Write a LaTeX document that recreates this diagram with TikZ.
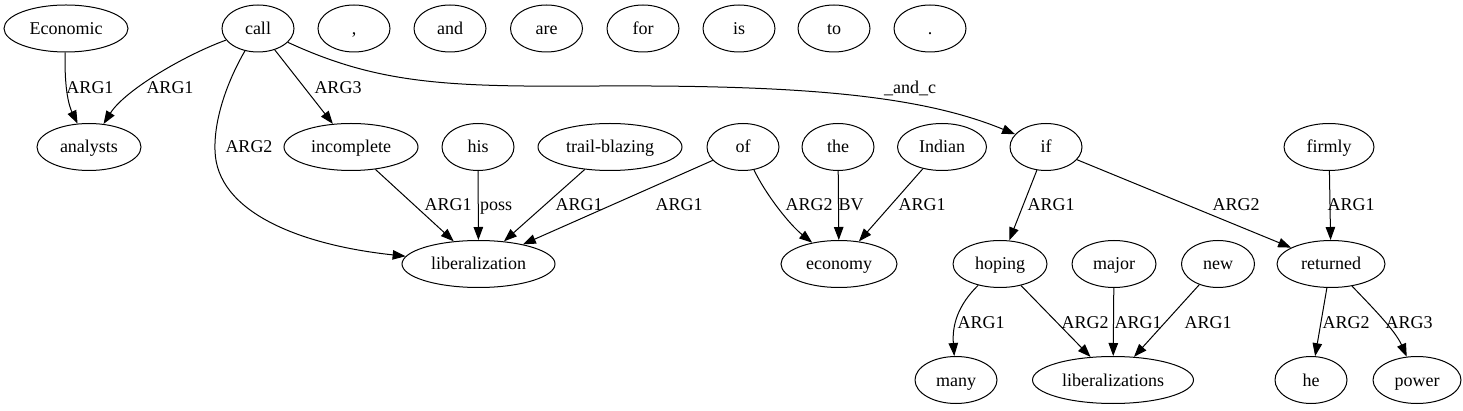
\documentclass[tikz,border=0pt]{standalone}
\usepackage{fontspec}
\newfontfamily\gvfont{Liberation Serif}
\usetikzlibrary{shapes.geometric,arrows.meta}
\tikzset{
  nd/.style={draw, ellipse, line width=1pt, inner sep=0pt, minimum height=47pt, minimum width=72pt, text height=16pt, text depth=4pt, font=\gvfont\fontsize{18}{22}\selectfont},
  lbl/.style={inner sep=0pt, text height=16pt, text depth=4pt, font=\gvfont\fontsize{18}{22}\selectfont},
  ed/.style={line width=1pt, -{Triangle[length=13pt,width=9.5pt]}}
}
\begin{document}
\begin{tikzpicture}[x=1pt,y=1pt]
\useasboundingbox (0,0) rectangle (1463,-411);
% row 1
\node[nd, minimum width=124pt] (economic) at (66,-28.5) {Economic};
\node[nd] (call) at (258,-28.5) {call};
\node[nd] (comma) at (354,-28.5) {,};
\node[nd] (and) at (450,-28.5) {and};
\node[nd] (are) at (546.5,-28.5) {are};
\node[nd] (for) at (643,-28.5) {for};
\node[nd] (is) at (739,-28.5) {is};
\node[nd] (to) at (834,-28.5) {to};
\node[nd] (dot) at (930,-28.5) {.};
% row 2
\node[nd, minimum width=104pt] (analysts) at (89,-147) {analysts};
\node[nd, minimum width=134pt] (incomplete) at (351,-147) {incomplete};
\node[nd] (his) at (478,-147) {his};
\node[nd, minimum width=144pt] (trail) at (610,-147) {trail-blazing};
\node[nd] (of) at (743,-147) {of};
\node[nd] (the) at (838,-147) {the};
\node[nd, minimum width=89pt] (indian) at (942,-147) {Indian};
\node[nd] (if) at (1046,-147) {if};
\node[nd, minimum width=90pt] (firmly) at (1329,-147) {firmly};
% row 3
\node[nd, minimum width=153pt] (lib) at (478.5,-264) {liberalization};
\node[nd, minimum width=116pt] (economy) at (839,-264) {economy};
\node[nd, minimum width=94pt] (hoping) at (1000,-264) {hoping};
\node[nd, minimum width=84pt] (major) at (1114,-264) {major};
\node[nd, minimum width=73pt] (new) at (1218,-264) {new};
\node[nd, minimum width=108pt] (returned) at (1331,-264) {returned};
% row 4
\node[nd, minimum width=82pt] (many) at (956,-380) {many};
\node[nd, minimum width=161pt] (libs) at (1113,-380) {liberalizations};
\node[nd] (he) at (1311,-380) {he};
\node[nd, minimum width=88pt] (power) at (1417,-380) {power};
% edges
\draw[ed] (economic) .. controls (64,-92) and (70,-108) .. (analysts);
\draw[ed] (call) .. controls (185,-55) and (125,-90) .. (analysts);
\draw[ed] (call) .. controls (228,-80) and (214,-118) .. (215,-150) .. controls (216,-212) and (300,-245) .. (lib);
\draw[ed] (call) -- (incomplete);
\draw[ed] (call) .. controls (380,-85) and (450,-87) .. (600,-86) .. controls (800,-85) and (920,-95) .. (if);
\draw[ed] (incomplete) -- (lib);
\draw[ed] (his) -- (lib);
\draw[ed] (trail) -- (lib);
\draw[ed] (of) -- (lib);
\draw[ed] (of) .. controls (766,-195) and (790,-225) .. (economy);
\draw[ed] (the) -- (economy);
\draw[ed] (indian) -- (economy);
\draw[ed] (if) -- (hoping);
\draw[ed] (if) -- (returned);
\draw[ed] (firmly) -- (returned);
\draw[ed] (hoping) .. controls (958,-305) and (952,-325) .. (many);
\draw[ed] (hoping) -- (libs);
\draw[ed] (major) -- (libs);
\draw[ed] (new) -- (libs);
\draw[ed] (returned) -- (he);
\draw[ed] (returned) .. controls (1370,-305) and (1395,-330) .. (power);
% labels
\node[lbl] (l1) at (90,-88) {ARG1};
\node[lbl] (l2) at (170,-88) {ARG1};
\node[lbl] (l3) at (249,-147) {ARG2};
\node[lbl] (l4) at (338,-88) {ARG3};
\node[lbl] (l5) at (910,-88) {\_and\_c};
\node[lbl] (l6) at (448,-205) {ARG1};
\node[lbl] (l7) at (496,-205) {poss};
\node[lbl] (l8) at (579,-205) {ARG1};
\node[lbl] (l9) at (679,-205) {ARG1};
\node[lbl] (l10) at (809,-205) {ARG2};
\node[lbl] (l11) at (851,-205) {BV};
\node[lbl] (l12) at (922,-205) {ARG1};
\node[lbl] (l13) at (1051,-205) {ARG1};
\node[lbl] (l14) at (1236,-205) {ARG2};
\node[lbl] (l15) at (1351,-205) {ARG1};
\node[lbl] (l16) at (981,-322) {ARG1};
\node[lbl] (l17) at (1085,-322) {ARG2};
\node[lbl] (l18) at (1138,-322) {ARG1};
\node[lbl] (l19) at (1208,-322) {ARG1};
\node[lbl] (l20) at (1346,-322) {ARG2};
\node[lbl] (l21) at (1409,-322) {ARG3};
\end{tikzpicture}
\end{document}
